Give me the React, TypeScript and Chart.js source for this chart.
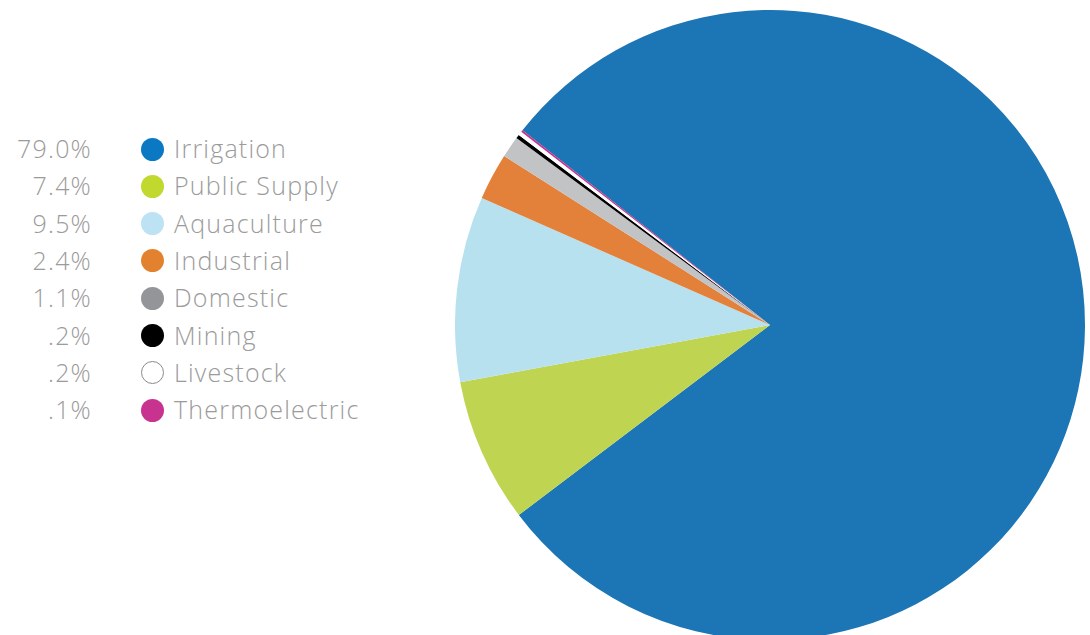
import React, { useEffect, useRef } from "react";
import { Chart, registerables } from "chart.js";

Chart.register(...registerables);

const categories = [
  "Irrigation",
  "Public Supply",
  "Aquaculture",
  "Industrial",
  "Domestic",
  "Mining",
  "Livestock",
  "Thermoelectric",
];
const values = [79.0, 7.4, 9.5, 2.4, 1.1, 0.2, 0.2, 0.1];
const valueLabels = ["79.0%", "7.4%", "9.5%", "2.4%", "1.1%", ".2%", ".2%", ".1%"];
const sliceColors = [
  "#1c75b4",
  "#bfd551",
  "#b8e1f0",
  "#e3803a",
  "#c1c3c5",
  "#000000",
  "#ffffff",
  "#c9308e",
];
const legendColors = [
  "#0a78c2",
  "#c1d82f",
  "#bce2f3",
  "#e2822e",
  "#939598",
  "#000000",
  "#ffffff",
  "#c8338f",
];

export default function App() {
  const canvasRef = useRef<HTMLCanvasElement | null>(null);

  useEffect(() => {
    if (!canvasRef.current) return;
    const chart = new Chart(canvasRef.current, {
      type: "pie",
      data: {
        labels: categories,
        datasets: [
          {
            data: values,
            backgroundColor: sliceColors,
            borderWidth: 0,
          },
        ],
      },
      options: {
        animation: false,
        responsive: false,
        rotation: -51.8,
        layout: { padding: 0 },
        plugins: {
          legend: { display: false },
          tooltip: { enabled: false },
        },
      },
    });
    return () => chart.destroy();
  }, []);

  const rowH = 37.3;
  const firstY = 148;

  const textStyle: React.CSSProperties = {
    position: "absolute",
    height: 32,
    lineHeight: "32px",
    fontSize: 25,
    fontWeight: 300,
    letterSpacing: "1.2px",
    color: "#9b9b9b",
    whiteSpace: "nowrap",
  };

  return (
    <div
      style={{
        position: "fixed",
        left: 0,
        top: 0,
        width: 1090,
        height: 635,
        overflow: "hidden",
        background: "#fff",
        fontFamily: "'Open Sans', Lato, sans-serif",
      }}
    >
      <canvas
        ref={canvasRef}
        width={630}
        height={630}
        style={{ position: "absolute", left: 455, top: 10, width: 630, height: 630 }}
      />
      {categories.map((c, i) => {
        const cy = firstY + i * rowH;
        return (
          <React.Fragment key={c}>
            <div style={{ ...textStyle, right: 1090 - 92, top: cy - 16, textAlign: "right" }}>
              {valueLabels[i]}
            </div>
            <div
              style={{
                position: "absolute",
                left: 152 - 11.5,
                top: cy + 1 - 11.5,
                width: 23,
                height: 23,
                borderRadius: "50%",
                boxSizing: "border-box",
                background: legendColors[i],
                border: legendColors[i] === "#ffffff" ? "1px solid #8a8a8a" : "none",
              }}
            />
            <div style={{ ...textStyle, left: 174, top: cy - 16 }}>{c}</div>
          </React.Fragment>
        );
      })}
    </div>
  );
}
